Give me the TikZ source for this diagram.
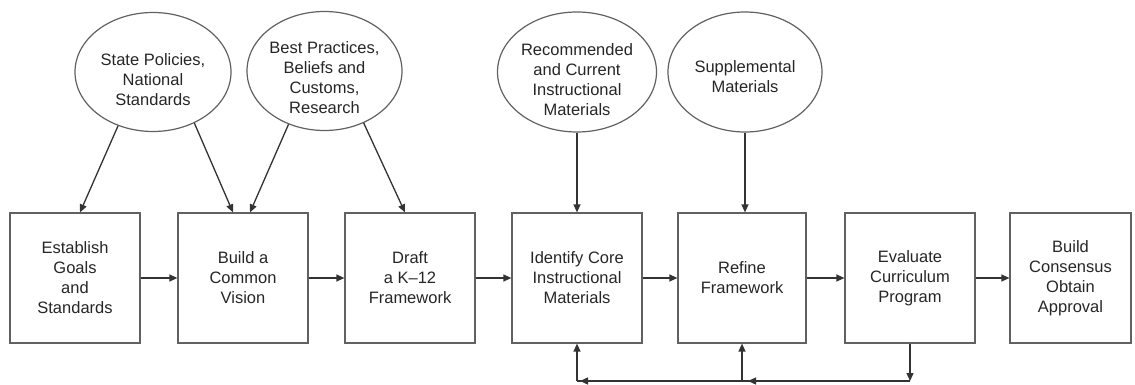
\documentclass[tikz,border=0pt]{standalone}
\usepackage{fontspec}
\setmainfont{Liberation Sans}
\usetikzlibrary{shapes.geometric,arrows.meta}
\begin{document}
\begin{tikzpicture}[x=1pt,y=-1pt,
  stepbox/.style={draw=black!62, line width=1.2pt, minimum width=130pt, minimum height=130pt,
    inner sep=0pt, align=center, font=\fontsize{16.5}{20}\selectfont, text=black!85},
  src/.style={ellipse, draw=black!62, line width=1.2pt, inner sep=0pt},
  srctext/.style={align=center, font=\fontsize{16.5}{20}\selectfont, text=black!85},
  arr/.style={draw=black!80, line width=1.3pt, -{Triangle[length=8pt,width=7pt]}},
  plain/.style={draw=black!80, line width=1.3pt}
]
\useasboundingbox (0,0) rectangle (1135,385);

% process boxes
\node[stepbox] (B1) at (75,278) {Establish\\Goals\\and\\Standards};
\node[stepbox] (B2) at (243,278) {Build a\\Common\\Vision};
\node[stepbox] (B3) at (410,278) {Draft\\a K--12\\Framework};
\node[stepbox] (B4) at (577,278) {Identify Core\\Instructional\\Materials};
\node[stepbox, minimum width=128pt] (B5) at (742,278) {Refine\\Framework};
\node[stepbox] (B6) at (910,278) {Evaluate\\Curriculum\\Program};
\node[stepbox, minimum width=121pt] (B7) at (1070.5,278) {Build\\Consensus\\Obtain\\Approval};

% source ellipses
\node[src, minimum width=156pt, minimum height=119pt] (E1) at (153,72) {};
\node[srctext] (T1) at (153,80) {State Policies,\\National\\Standards};
\node[src, minimum width=155pt, minimum height=119pt] (E2) at (324.5,71) {};
\node[srctext] (T2) at (324.5,78) {Best Practices,\\Beliefs and\\Customs,\\Research};
\node[src, minimum width=159pt, minimum height=120pt] (E3) at (577,72) {};
\node[srctext] (T3) at (577,80) {Recommended\\and Current\\Instructional\\Materials};
\node[src, minimum width=154pt, minimum height=120pt] (E4) at (745,72) {};
\node[srctext] (T4) at (745,77) {Supplemental\\Materials};

% inputs from ellipses
\draw[arr] (E1.237) -- ([xshift=5pt]B1.north);
\draw[arr] (E1.309) -- ([xshift=-10pt]B2.north);
\draw[arr] (E2.236) -- ([xshift=7pt]B2.north);
\draw[arr] (E2.307) -- ([xshift=-5pt]B3.north);
\draw[arr] (E3.south) -- (E3.south |- B4.north);
\draw[arr] (E4.south) -- (E4.south |- B5.north);

% main flow
\draw[arr] (B1.east) -- (B2.west);
\draw[arr] (B2.east) -- (B3.west);
\draw[arr] (B3.east) -- (B4.west);
\draw[arr] (B4.east) -- (B5.west);
\draw[arr] (B5.east) -- (B6.west);
\draw[arr] (B6.east) -- (B7.west);

% feedback loop
\coordinate (fb) at (0,381);
\coordinate (f6) at (B6.south |- fb);
\coordinate (f5) at (B5.south |- fb);
\coordinate (f4) at (B4.south |- fb);
\draw[arr] (B6.south) -- (f6);
\draw[plain] (f6) -- (f4);
\draw[arr] (f6) -- ([xshift=6pt]f5);
\draw[arr] (f5) -- ([xshift=3pt]f4);
\draw[arr] (f5) -- (B5.south);
\draw[arr] (f4) -- (B4.south);
\end{tikzpicture}
\end{document}
